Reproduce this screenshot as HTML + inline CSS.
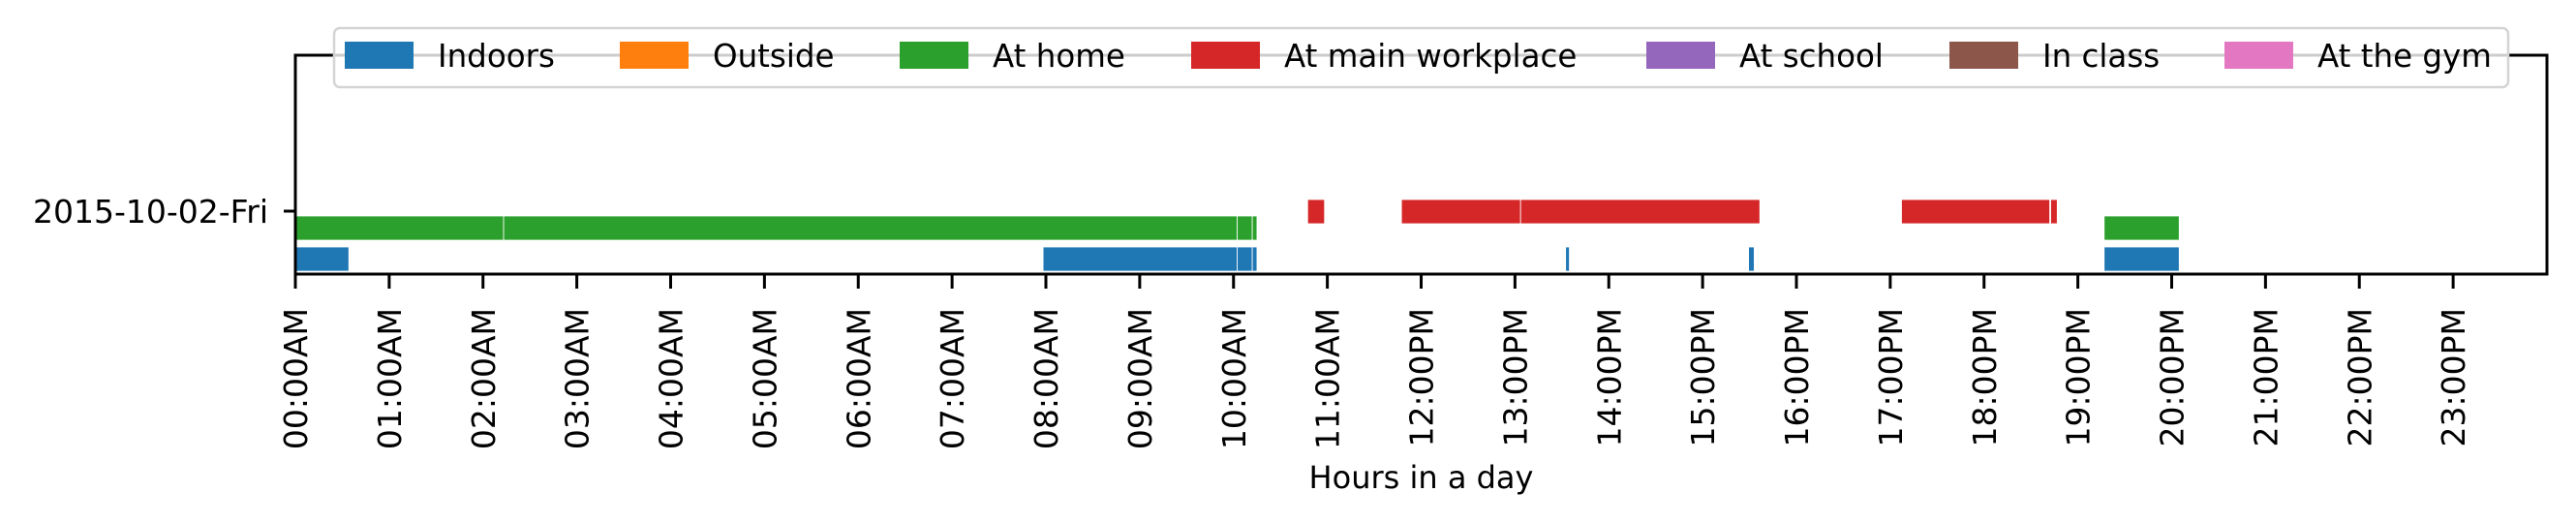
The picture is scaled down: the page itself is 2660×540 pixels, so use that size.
<!DOCTYPE html>
<html><head><meta charset="utf-8"><style>
html,body{margin:0;padding:0;background:#fff;}
svg{display:block;font-family:"DejaVu Sans","Liberation Sans",sans-serif;}
</style></head><body>
<svg id="chart" width="2660" height="540" viewBox="0 0 2660 540" xmlns="http://www.w3.org/2000/svg">
<g id="marks"></g>
<g id="axes"></g>
<g id="legend"></g>
</svg>
<script>
// Data (hours of day)
const categories = ["Indoors","Outside","At home","At main workplace","At school","In class","At the gym"];
const colors = ["#1f77b4","#ff7f0e","#2ca02c","#d62728","#9467bd","#8c564b","#e377c2"];
const dayLabel = "2015-10-02-Fri";
const indoorsStarts = [0, 7.97, 10.04, 10.20, 13.54, 15.49, 19.28];
const indoorsEnds   = [0.57, 10.04, 10.20, 10.25, 13.58, 15.55, 20.08];
const homeStarts = [0, 2.22, 10.04, 10.20, 19.28];
const homeEnds   = [2.22, 10.04, 10.20, 10.25, 20.08];
const workStarts = [10.79, 11.79, 13.06, 17.12, 18.71];
const workEnds   = [10.97, 13.06, 15.61, 18.70, 18.78];
const tickHours = [0,1,2,3,4,5,6,7,8,9,10,11,12,13,14,15,16,17,18,19,20,21,22,23];
const tickLabels = ["00:00AM","01:00AM","02:00AM","03:00AM","04:00AM","05:00AM","06:00AM","07:00AM","08:00AM","09:00AM","10:00AM","11:00AM","12:00PM","13:00PM","14:00PM","15:00PM","16:00PM","17:00PM","18:00PM","19:00PM","20:00PM","21:00PM","22:00PM","23:00PM"];

const NS="http://www.w3.org/2000/svg";
const L=305,R=2630,T=57,B=283;
const x=h=>L+(R-L)*h/24;
function mk(tag,attrs,parent){const e=document.createElementNS(NS,tag);for(const k in attrs)e.setAttribute(k,attrs[k]);parent.appendChild(e);return e;}
const marks=document.getElementById('marks'),axes=document.getElementById('axes'),legend=document.getElementById('legend');

function drawSeries(starts,ends,y0,h,color,name){
  for(let i=0;i<starts.length;i++){
    const r=mk('rect',{x:x(starts[i]),y:y0,width:Math.max(1,x(ends[i])-x(starts[i])),height:h,fill:color,stroke:'#fff','stroke-width':0.8},marks);
    
    
  }
}
drawSeries(workStarts,workEnds,206,25,colors[3],'workplace');
drawSeries(homeStarts,homeEnds,223,25,colors[2],'home');
drawSeries(indoorsStarts,indoorsEnds,255,25,colors[0],'indoors');

// spines
let s;
s=mk('rect',{x:L,y:T,width:R-L,height:B-T,fill:'none',stroke:'#000','stroke-width':3},axes);


// y tick
s=mk('line',{x1:L-12,y1:218,x2:L,y2:218,stroke:'#000','stroke-width':3},axes);


s=mk('text',{x:277,y:230,'font-size':33,'text-anchor':'end',fill:'#000'},axes);
s.textContent=dayLabel;


// x ticks
tickHours.forEach((h,i)=>{
  const t=mk('line',{x1:x(h),y1:B,x2:x(h),y2:B+15,stroke:'#000','stroke-width':3},axes);
  
  
  const tx=mk('text',{x:0,y:0,'font-size':33,'text-anchor':'end',fill:'#000',transform:`translate(${x(h)+12},${B+35}) rotate(-90)`},axes);
  tx.textContent=tickLabels[i];
  
  
});
s=mk('text',{x:(L+R)/2,y:504,'font-size':32,'text-anchor':'middle',fill:'#000'},axes);
s.textContent="Hours in a day";



// legend
s=mk('rect',{x:345,y:29,width:2245,height:61,rx:6,fill:'rgba(255,255,255,0.8)',stroke:'#d4d4d4','stroke-width':2.5},legend);


const patchX=[356,640,929,1230,1700,2013,2297];
categories.forEach((c,i)=>{
  const p=mk('rect',{x:patchX[i],y:43,width:71,height:28,fill:colors[i]},legend);
  
  
  const t=mk('text',{x:patchX[i]+96,y:69,'font-size':32.5,fill:'#000'},legend);
  t.textContent=c;
  
  
});
</script>
</body></html>
